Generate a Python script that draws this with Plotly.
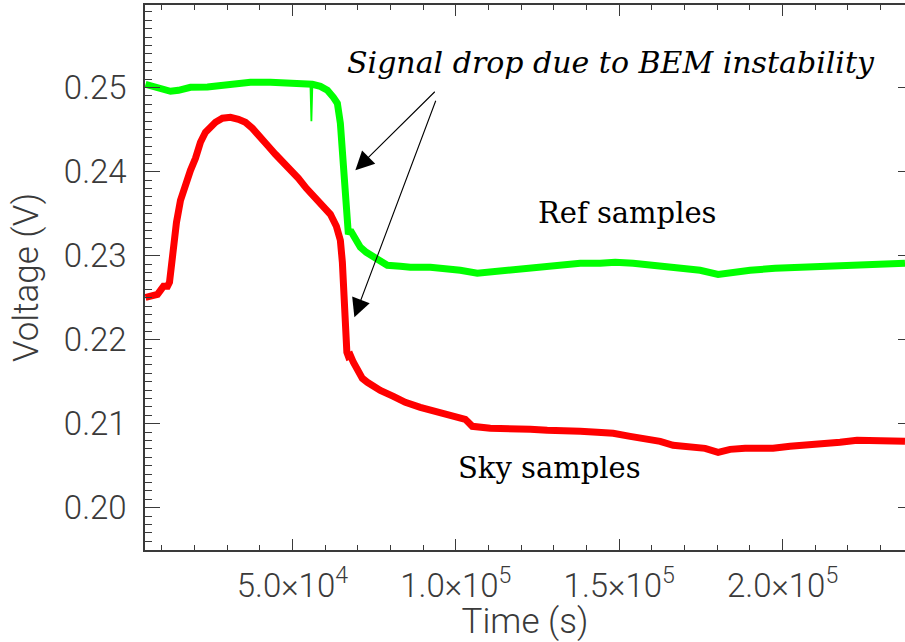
import plotly.graph_objects as go

# Reference-channel samples (green): time [s], voltage [V]
ref_time = [5047, 7188, 9634, 12692, 15139, 18808, 24007, 29511, 37156, 43272,
            49388, 53975, 55504, 56116, 58562, 60703, 62538, 63761, 64678,
            65290, 65748, 66207, 66666, 67125, 67736, 68654, 70794, 72629, 74770,
            76910, 79051, 83026, 86084, 92200, 97399, 101374, 106573, 112077, 116664,
            122780, 130425, 138070, 144186, 148773, 154278, 159476, 164675, 170179, 174766,
            180271, 185470, 190056, 197701, 205346, 212991, 220636, 228281, 237455]
ref_volt = [0.25039, 0.25015, 0.24992, 0.24956, 0.24968, 0.25004, 0.25007, 0.25027, 0.25063, 0.25063,
            0.25051, 0.25051, 0.25050, 0.25039, 0.25015, 0.24968, 0.24884, 0.24813, 0.24575,
            0.24254, 0.23896, 0.23539, 0.23325, 0.23254, 0.23301, 0.23230, 0.23099, 0.23039, 0.22980,
            0.22932, 0.22885, 0.22873, 0.22861, 0.22861, 0.22849, 0.22825, 0.22790, 0.22813, 0.22837,
            0.22861, 0.22885, 0.22908, 0.22908, 0.22920, 0.22908, 0.22885, 0.22861, 0.22837, 0.22825,
            0.22777, 0.22813, 0.22825, 0.22849, 0.22861, 0.22873, 0.22885, 0.22897, 0.22908]

# Single-sample glitch in the reference channel
ref_glitch_time = [55504, 55810, 56116]
ref_glitch_volt = [0.25050, 0.24599, 0.25039]

# Sky-channel samples (red): time [s], voltage [V]
sky_time = [5047, 7188, 8717, 9634, 10552, 11775, 12386, 12998, 13610, 14527,
            15750, 17279, 18808, 20337, 21866, 23395, 24924, 26453, 28594, 31040,
            33487, 35627, 37768, 40214, 42355, 44801, 47248, 49388, 51835, 54281,
            56727, 59174, 61620, 63455, 64678, 65290, 65748, 66207, 66666, 67125,
            67736, 68654, 69877, 71406, 72935, 74770, 76910, 80886, 84555, 89142,
            93729, 98316, 102904, 103821, 105044, 110549, 117582, 122780, 127979, 133483,
            138070, 143269, 148161, 153360, 158559, 162534, 166509, 171708, 176295, 180271,
            183940, 188527, 193114, 197090, 202288, 207487, 212380, 217578, 222777, 227670,
            232868, 237455]
sky_volt = [0.22503, 0.22515, 0.22539, 0.22587, 0.22635, 0.22635, 0.22682, 0.22885, 0.23123, 0.23396,
            0.23658, 0.23873, 0.24015, 0.24158, 0.24349, 0.24468, 0.24539, 0.24587, 0.24635, 0.24646,
            0.24623, 0.24587, 0.24515, 0.24420, 0.24313, 0.24206, 0.24111, 0.24015, 0.23920, 0.23801,
            0.23706, 0.23611, 0.23492, 0.23349, 0.23182, 0.22920, 0.22468, 0.22039, 0.21849, 0.21801,
            0.21813, 0.21730, 0.21635, 0.21539, 0.21492, 0.21444, 0.21396, 0.21325, 0.21254, 0.21194,
            0.21146, 0.21099, 0.21051, 0.21016, 0.20968, 0.20944, 0.20944, 0.20932, 0.20920, 0.20920,
            0.20908, 0.20897, 0.20885, 0.20849, 0.20825, 0.20789, 0.20742, 0.20718, 0.20706, 0.20658,
            0.20694, 0.20706, 0.20706, 0.20706, 0.20730, 0.20742, 0.20766, 0.20778, 0.20801, 0.20801,
            0.20789, 0.20789]

x_tick_vals = [5.0e4, 1.0e5, 1.5e5, 2.0e5]
x_tick_text = ["5.0×10<sup>4</sup>", "1.0×10<sup>5</sup>", "1.5×10<sup>5</sup>", "2.0×10<sup>5</sup>"]
y_tick_vals = [0.20, 0.21, 0.22, 0.23, 0.24, 0.25]
y_tick_text = ["0.20", "0.21", "0.22", "0.23", "0.24", "0.25"]

X_RANGE = [4893, 237460]
Y_RANGE = [0.19496, 0.25983]

AXIS_COLOR = "#3a3a3a"
TICK_FONT = dict(family="Roboto", size=33, color="#3a3a3a", weight=300)
TITLE_FONT = dict(family="Roboto", size=35, color="#3a3a3a", weight=300)
SERIF = "DejaVu Serif"

fig = go.Figure()
fig.add_trace(go.Scatter(x=ref_time, y=ref_volt, mode="lines",
                         line=dict(color="#00ff00", width=7), showlegend=False))
fig.add_trace(go.Scatter(x=ref_glitch_time, y=ref_glitch_volt, mode="lines",
                         line=dict(color="#00ff00", width=1.8), showlegend=False))
fig.add_trace(go.Scatter(x=sky_time, y=sky_volt, mode="lines",
                         line=dict(color="#ff0000", width=7), showlegend=False))
# invisible trace so the right-hand tick axis is rendered
fig.add_trace(go.Scatter(x=[X_RANGE[0]], y=[Y_RANGE[0]], yaxis="y2", mode="markers",
                         marker=dict(opacity=0), showlegend=False, hoverinfo="skip"))

fig.update_layout(
    width=905, height=642,
    margin=dict(l=145, r=0, t=5, b=92),
    paper_bgcolor="white", plot_bgcolor="white",
    xaxis=dict(
        range=X_RANGE, tickvals=x_tick_vals, ticktext=x_tick_text,
        ticks="inside", ticklen=11, tickwidth=1.3, tickcolor=AXIS_COLOR,
        minor=dict(dtick=1e4, tick0=0, ticks="inside", ticklen=5.5, tickwidth=1.3, tickcolor=AXIS_COLOR),
        showline=True, linecolor=AXIS_COLOR, linewidth=1.5, mirror="ticks",
        showgrid=False, zeroline=False,
        tickfont=TICK_FONT, ticklabelstandoff=6,
        title=dict(text="Time (s)", font=TITLE_FONT, standoff=2),
    ),
    yaxis=dict(
        range=Y_RANGE, tickvals=y_tick_vals, ticktext=y_tick_text,
        ticks="inside", ticklen=15.5, tickwidth=1.3, tickcolor=AXIS_COLOR,
        minor=dict(dtick=0.001, tick0=0, ticks="inside", ticklen=7.7, tickwidth=1.3, tickcolor=AXIS_COLOR),
        showline=True, linecolor=AXIS_COLOR, linewidth=1.5, mirror=False,
        showgrid=False, zeroline=False,
        tickfont=TICK_FONT, ticklabelstandoff=10,
        title=dict(text="Voltage (V)", font=TITLE_FONT, standoff=15),
    ),
    yaxis2=dict(
        range=Y_RANGE, overlaying="y", side="right", tickvals=y_tick_vals,
        showticklabels=False, ticks="inside", ticklen=7, tickwidth=1.3, tickcolor=AXIS_COLOR,
        showline=False, showgrid=False, zeroline=False,
    ),
)

# Annotation text
fig.add_annotation(x=66207, y=0.25301, xref="x", yref="y", xanchor="left", yanchor="middle",
                   text="Signal drop due to BEM instability", showarrow=False,
                   font=dict(family=SERIF, size=30, color="black", style="italic"))
fig.add_annotation(x=152443, y=0.23504, xref="x", yref="y", xanchor="center", yanchor="middle",
                   text="Ref samples", showarrow=False,
                   font=dict(family=SERIF, size=29, color="black"))
fig.add_annotation(x=128591, y=0.20468, xref="x", yref="y", xanchor="center", yanchor="middle",
                   text="Sky samples", showarrow=False,
                   font=dict(family=SERIF, size=29, color="black"))

# Arrows pointing at the drop in each channel
for tip_x, tip_y, tail_x, tail_y in [(69265, 0.24015, 94035, 0.24968),
                                     (68960, 0.22265, 94035, 0.24861)]:
    fig.add_annotation(x=tip_x, y=tip_y, ax=tail_x, ay=tail_y,
                       xref="x", yref="y", axref="x", ayref="y",
                       text="", showarrow=True, arrowhead=2, arrowsize=3.4,
                       arrowwidth=1.1, arrowcolor="black")

fig.write_html("out.html")
